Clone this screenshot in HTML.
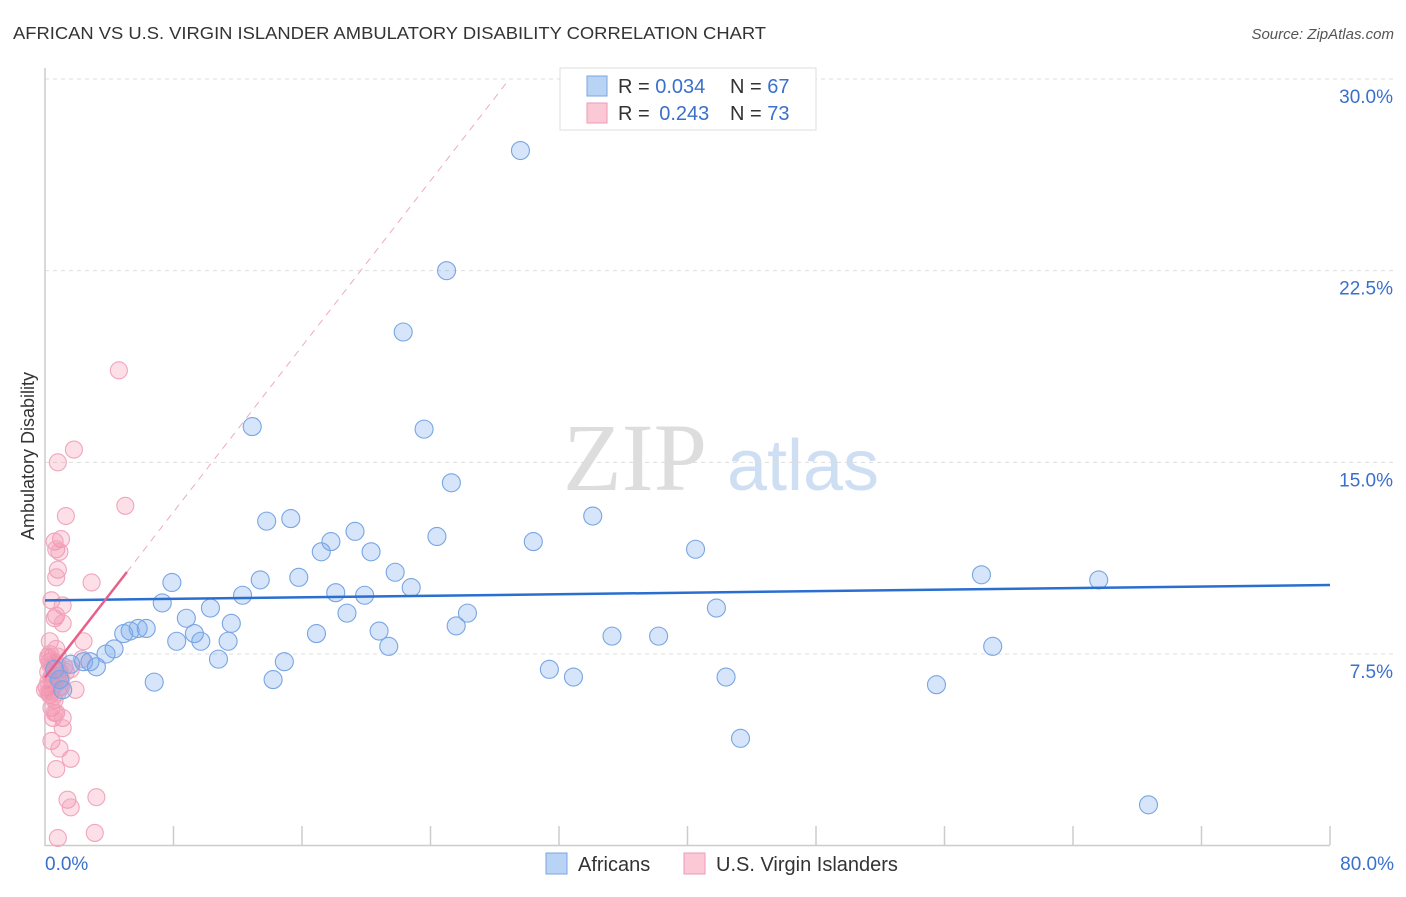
<!DOCTYPE html>
<html><head><meta charset="utf-8"><style>
body{margin:0;background:#fff;width:1406px;height:892px;overflow:hidden;font-family:"Liberation Sans",sans-serif}
</style></head><body>
<svg id="chart" width="1406" height="892" xmlns="http://www.w3.org/2000/svg" font-family="Liberation Sans, sans-serif">
<text x="13" y="39" font-size="17.5" fill="#333" textLength="753" lengthAdjust="spacingAndGlyphs">AFRICAN VS U.S. VIRGIN ISLANDER AMBULATORY DISABILITY CORRELATION CHART</text>
<text x="1394" y="39" font-size="15" fill="#555" text-anchor="end" font-style="italic">Source: ZipAtlas.com</text>
<g>
<text x="635" y="490" font-size="96" fill="#ddd" font-family="Liberation Serif, serif" text-anchor="middle">ZIP</text>
<text x="803" y="490" font-size="72" fill="#cfdff3" text-anchor="middle">atlas</text>
</g>
<g id="grid"></g>
<g id="axes"></g>
<text transform="translate(34,456) rotate(-90)" font-size="18" fill="#333" text-anchor="middle">Ambulatory Disability</text>
<g id="marks"></g>
<g>
<rect x="560" y="68" width="256" height="62" fill="#fff" stroke="#ddd"/>
<rect x="587" y="76" width="20" height="20" fill="#b9d3f5" stroke="#7aa6e0"/>
<rect x="587" y="103" width="20" height="20" fill="#fbc8d6" stroke="#ef9ab4"/>
<text x="618" y="93" font-size="20" fill="#333">R = <tspan fill="#3a70cc">0.034</tspan><tspan x="730">N = </tspan><tspan fill="#3a70cc">67</tspan></text>
<text x="618" y="120" font-size="20" fill="#333">R = <tspan fill="#3a70cc" dx="4">0.243</tspan><tspan x="730">N = </tspan><tspan fill="#3a70cc">73</tspan></text>
</g>
<g>
<rect x="546" y="853" width="21" height="21" fill="#b9d3f5" stroke="#7aa6e0"/>
<text x="578" y="871" font-size="20" fill="#333">Africans</text>
<rect x="684" y="853" width="21" height="21" fill="#fbc8d6" stroke="#ef9ab4"/>
<text x="716" y="871" font-size="20" fill="#333">U.S. Virgin Islanders</text>
</g>
</svg>
<script>
const yTicks=[7.5,15,22.5,30];
const yTickLabels=["7.5%","15.0%","22.5%","30.0%"];
const xTickLabels=["0.0%","80.0%"];
const africansX=[29.6,25.0,22.3,12.9,23.6,25.3,13.8,15.3,34.1,19.3,24.4,30.4,17.8,17.2,20.3,40.5,58.3,65.6,21.8,15.8,13.4,7.9,22.8,12.3,18.1,19.9,7.3,10.3,41.8,26.3,18.8,8.8,11.6,25.6,5.8,6.3,4.9,5.3,9.3,16.9,20.8,35.3,38.2,8.2,9.7,11.4,21.4,59.0,4.3,3.8,10.8,14.9,2.4,2.8,1.6,3.2,31.4,32.9,42.4,6.8,14.2,55.5,43.3,68.7,0.9,0.6,1.1];
const africansY=[27.2,22.5,20.1,16.4,16.3,14.2,12.7,12.8,12.9,12.3,12.1,11.9,11.9,11.5,11.5,11.6,10.6,10.4,10.7,10.5,10.4,10.3,10.1,9.8,9.9,9.8,9.5,9.3,9.3,9.1,9.1,8.9,8.7,8.6,8.5,8.5,8.3,8.4,8.3,8.3,8.4,8.2,8.2,8.0,8.0,8.0,7.8,7.8,7.7,7.5,7.3,7.2,7.2,7.2,7.1,7.0,6.9,6.6,6.6,6.4,6.5,6.3,4.2,1.6,6.5,6.9,6.1];
const islandersX=[4.6,1.8,0.8,5.0,1.3,1.0,0.6,0.7,0.9,0.8,0.7,2.9,0.4,1.1,0.7,0.6,1.1,0.3,2.4,0.7,2.3,0.3,0.5,0.2,0.6,0.4,0.1,0.8,0.9,0.3,0.6,1.0,0.7,0.2,0.4,0.7,0.3,0.0,1.9,1.6,0.6,1.1,0.5,1.1,0.4,0.9,1.6,0.7,1.4,1.6,3.2,3.1,0.8,0.2,0.5,0.9,0.4,0.6,0.3,1.2,0.8,0.5,0.2,0.9,0.6,0.4,1.0,0.3,0.7,0.5,1.3,0.2,0.8];
const islandersY=[18.6,15.5,15.0,13.3,12.9,12.0,11.9,11.6,11.5,10.8,10.5,10.3,9.6,9.4,9.0,8.9,8.7,8.0,8.0,7.7,7.3,7.2,7.0,6.8,6.7,6.5,6.2,6.4,6.2,5.9,5.7,6.5,7.1,7.4,5.4,5.2,6.0,6.1,6.1,6.9,5.2,5.0,5.0,4.6,4.1,3.8,3.4,3.0,1.8,1.5,1.9,0.5,0.3,7.3,7.0,6.8,6.6,6.3,7.5,7.0,6.0,6.9,6.4,6.7,7.2,6.6,6.2,7.1,6.5,5.8,6.8,6.0,7.4];
const africansFit=[9.6,10.2];
const islandersFit=[6.58,0.81];
const X0=45,X1=1330,Y0=845.7,Y30=79;
function sx(v){return X0+(X1-X0)*v/80;}
function sy(v){return Y0-(Y0-Y30)*v/30;}
const NS="http://www.w3.org/2000/svg";
function mk(t,a,p){const e=document.createElementNS(NS,t);for(const k in a)e.setAttribute(k,a[k]);p.appendChild(e);return e;}
const grid=document.getElementById('grid'),axes=document.getElementById('axes'),marks=document.getElementById('marks');
yTicks.forEach((t,i)=>{
 const l=mk('line',{x1:45,x2:1394,y1:sy(t),y2:sy(t),stroke:'#ddd','stroke-dasharray':'4,4'},grid);
 
 
 const tx=mk('text',{x:1393,y:sy(t)+24,'font-size':19,fill:'#3a70cc','text-anchor':'end'},axes);
 tx.textContent=yTickLabels[i];
 
 
});
const ax=mk('path',{d:'M45,68 V845.5 H1330',fill:'none',stroke:'#ccc','stroke-width':1.5},axes);


for(let i=1;i<=10;i++){
 const t=mk('line',{x1:sx(i*8),x2:sx(i*8),y1:826,y2:845,stroke:'#ccc','stroke-width':1.5},axes);
 
 
}
[[0,'start',45],[80,'end',1394]].forEach((d,i)=>{
 const tx=mk('text',{x:d[2],y:870,'font-size':19,fill:'#3a70cc','text-anchor':d[1]},axes);
 tx.textContent=xTickLabels[i];
 
 
});
islandersX.forEach((x,i)=>{
 const c=mk('circle',{cx:sx(x),cy:sy(islandersY[i]),r:8.5,fill:'rgba(244,140,170,0.28)',stroke:'#f0a5bd','stroke-width':1.1},marks);
 
 
});
africansX.forEach((x,i)=>{
 const c=mk('circle',{cx:sx(x),cy:sy(africansY[i]),r:9,fill:'rgba(120,170,235,0.3)',stroke:'#78a5e3','stroke-width':1.1},marks);
 
 
});
const bl=mk('line',{x1:sx(0),y1:sy(africansFit[0]),x2:sx(80),y2:sy(africansFit[1]),stroke:'#2a6fd0','stroke-width':2.5},marks);


const xEnd=(30-islandersFit[0])/islandersFit[1];
const pd=mk('line',{x1:sx(5.1),y1:sy(islandersFit[0]+islandersFit[1]*5.1),x2:sx(xEnd),y2:sy(30),stroke:'#eeaabf','stroke-width':1,'stroke-dasharray':'7,6'},marks);


const pl=mk('line',{x1:sx(0),y1:sy(islandersFit[0]),x2:sx(5.1),y2:sy(islandersFit[0]+islandersFit[1]*5.1),stroke:'#e8608a','stroke-width':2.5},marks);


</script>
</body></html>
